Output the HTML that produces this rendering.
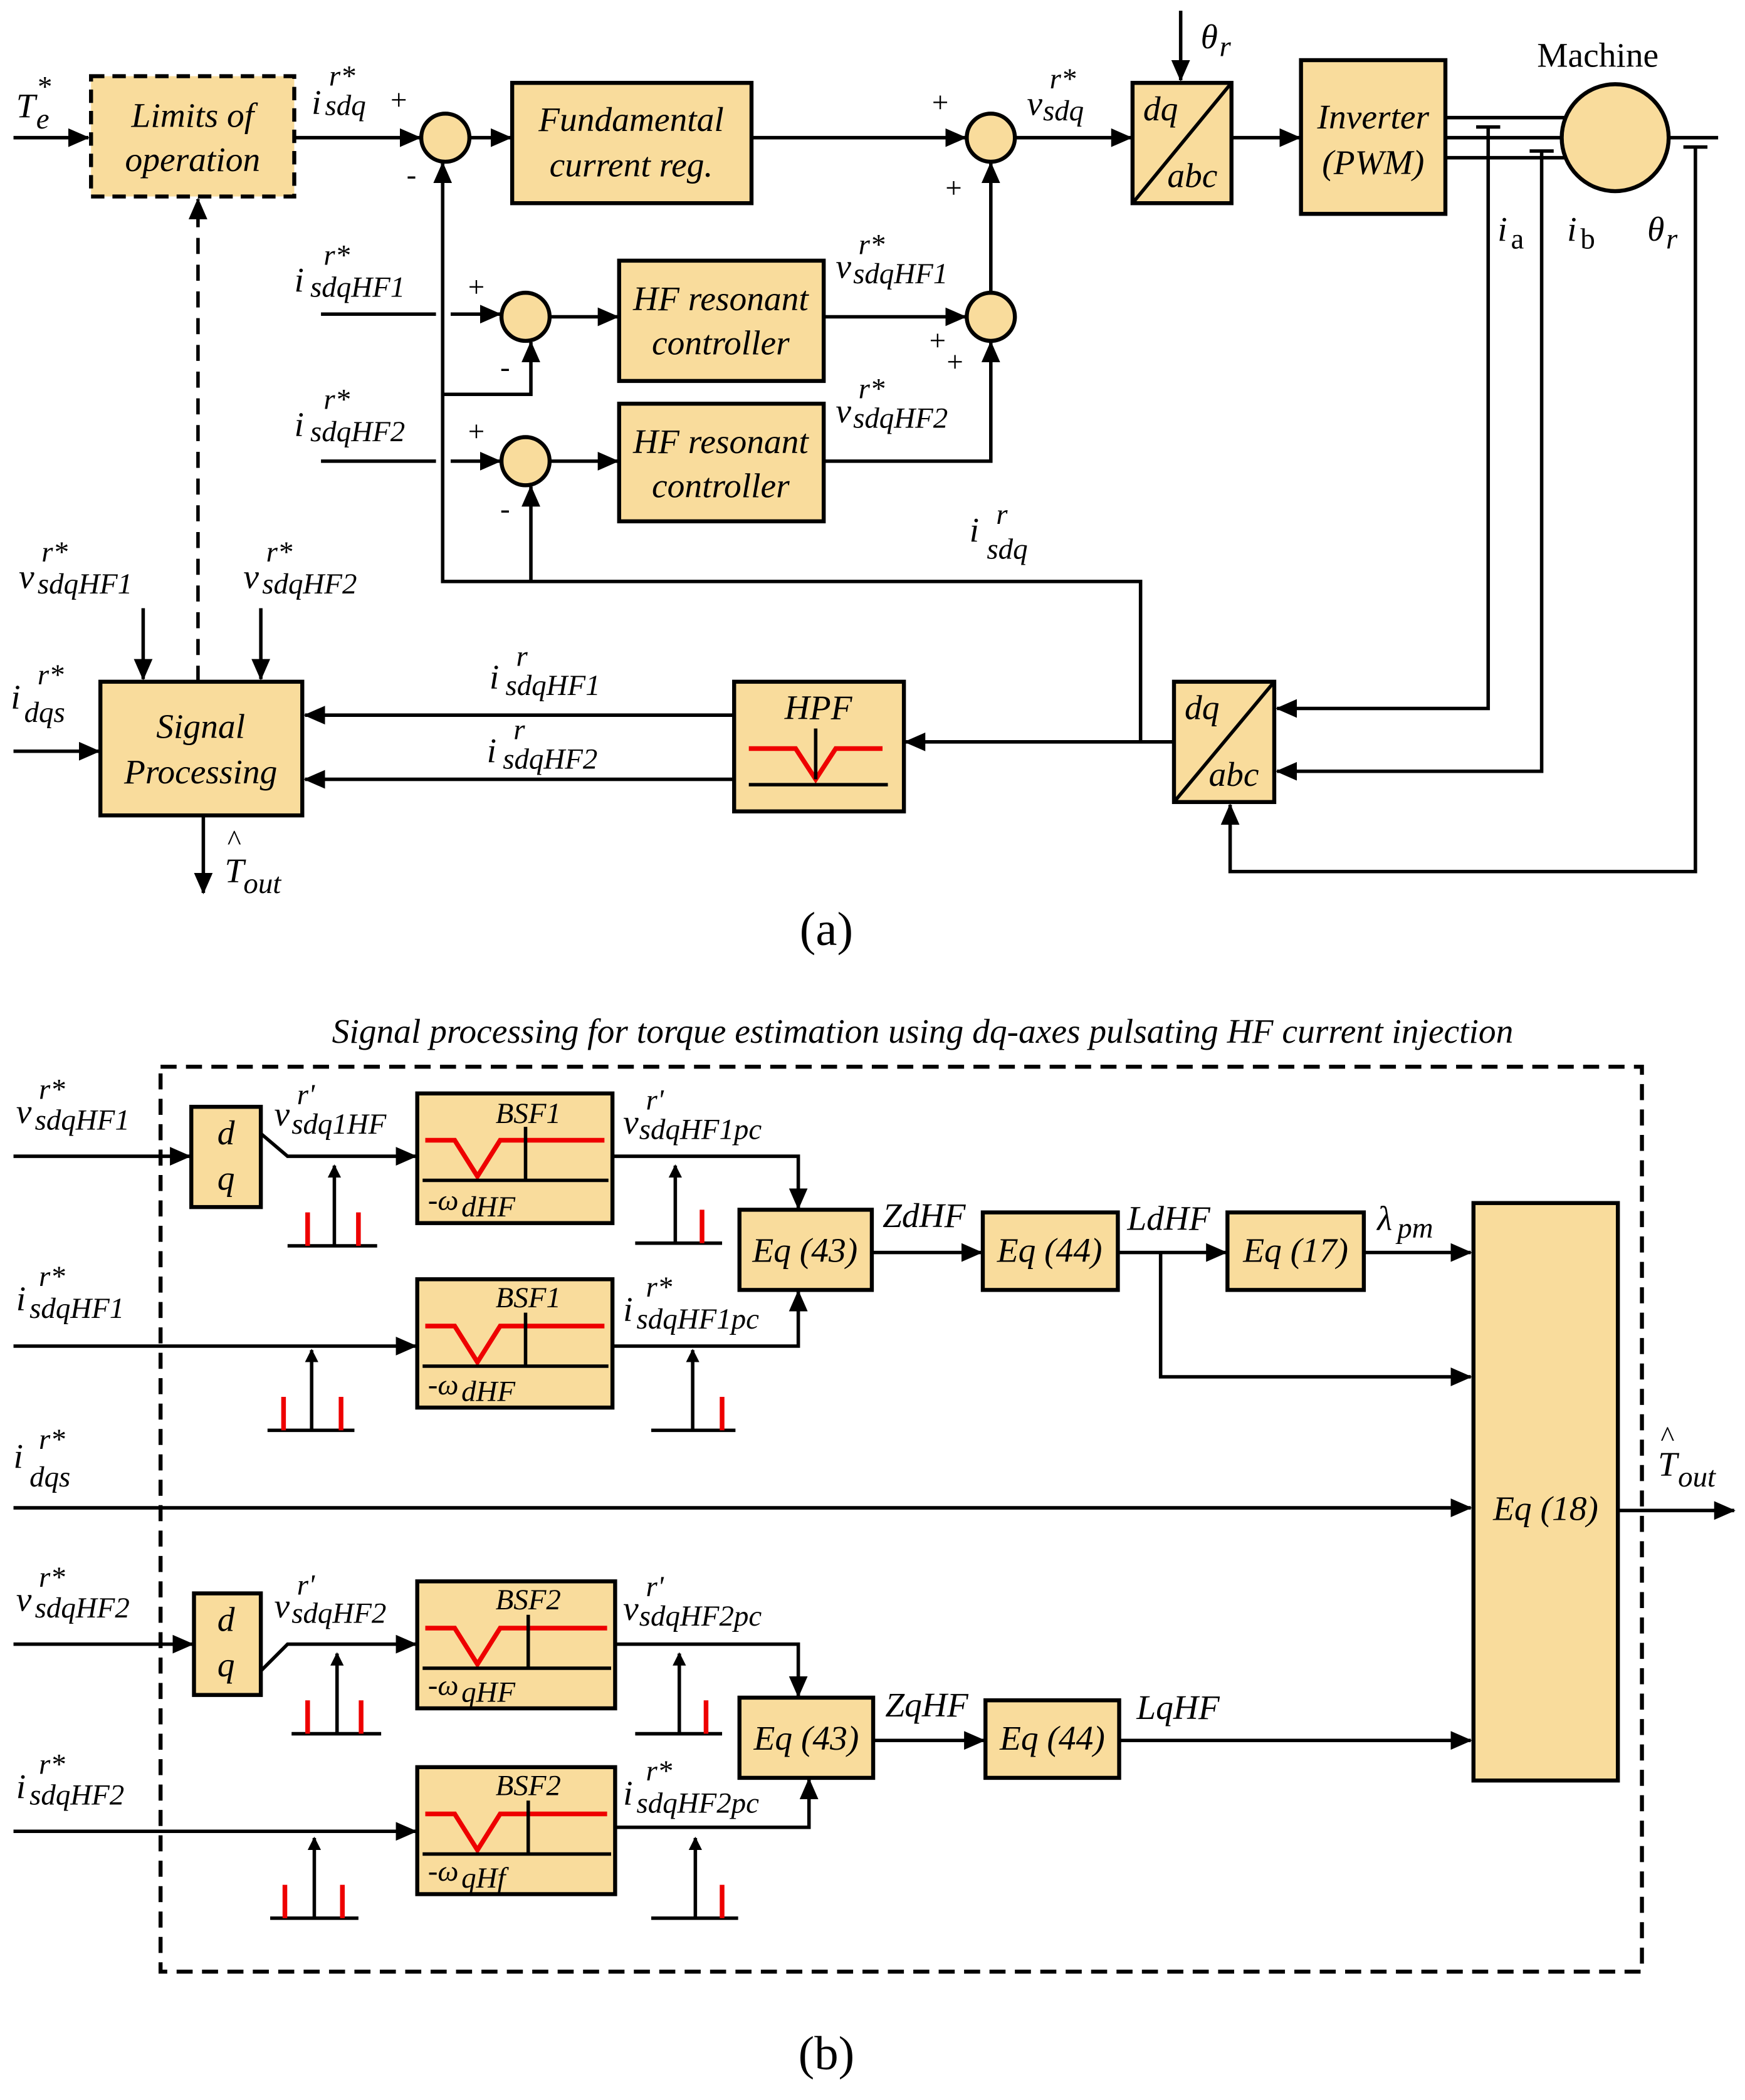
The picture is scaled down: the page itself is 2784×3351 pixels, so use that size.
<!DOCTYPE html>
<html><head><meta charset="utf-8"><style>
html,body{margin:0;padding:0;background:#fff}
svg{display:block}
text{font-family:"Liberation Serif","DejaVu Serif",serif;font-style:italic;fill:#000}
.b{fill:#F9DC9C;stroke:#000;stroke-width:3}
.l{fill:none;stroke:#000;stroke-width:2.6}
.r{fill:none;stroke:#e00;stroke-width:3.5}
.t{font-size:26px}
.s{font-size:22px}
.n{font-style:normal}
</style></head><body>
<svg width="2784" height="3351" viewBox="0 0 1305 1571" xmlns="http://www.w3.org/2000/svg">
<defs><marker id="a" markerWidth="10" markerHeight="10" refX="9" refY="5" orient="auto" markerUnits="userSpaceOnUse"><path d="M0,0 L10,5 L0,10 z" fill="#000"/></marker>
<marker id="A" markerWidth="16" markerHeight="14" refX="15" refY="7" orient="auto" markerUnits="userSpaceOnUse"><path d="M0,0 L16,7 L0,14 z" fill="#000"/></marker></defs>

<!-- ===== (a) ===== -->
<text x="12" y="88" class="t">T</text><text x="27" y="96" class="s">e</text><text x="27" y="72" class="s">*</text>
<path class="l" d="M10,103 H66" marker-end="url(#A)"/>
<rect x="68" y="57" width="152" height="90" fill="#F9DC9C" stroke="#000" stroke-width="3" stroke-dasharray="10,6"/>
<text x="144" y="95" class="t" text-anchor="middle">Limits of</text><text x="144" y="128" class="t" text-anchor="middle">operation</text>
<path class="l" d="M220,103 H314" marker-end="url(#A)"/>
<text x="233" y="85" class="t">i</text><text x="246" y="64" class="s">r*</text><text x="243" y="86" class="s">sdq</text>
<text x="292" y="82" class="s n">+</text><text x="304" y="138" class="s n">-</text>
<circle cx="333" cy="103" r="18" class="b"/>
<path class="l" d="M351,103 H382" marker-end="url(#A)"/>
<rect x="383" y="62" width="179" height="90" class="b"/>
<text x="472" y="98" class="t" text-anchor="middle">Fundamental</text><text x="472" y="132" class="t" text-anchor="middle">current reg.</text>
<path class="l" d="M562,103 H722" marker-end="url(#A)"/>
<text x="697" y="84" class="s n">+</text><text x="707" y="148" class="s n">+</text>
<circle cx="741" cy="103" r="18" class="b"/>
<path class="l" d="M759,103 H846" marker-end="url(#A)"/>
<text x="768" y="86" class="t">v</text><text x="785" y="66" class="s">r*</text><text x="780" y="90" class="s">sdq</text>
<rect x="847" y="62" width="74" height="90" class="b"/><path class="l" d="M847,152 L921,62"/>
<text x="855" y="90" class="t">dq</text><text x="873" y="140" class="t">abc</text>
<path class="l" d="M883,8 V60" marker-end="url(#A)"/><text x="898" y="36" class="t">θ</text><text x="912" y="42" class="s">r</text>
<path class="l" d="M921,103 H972" marker-end="url(#A)"/>
<rect x="973" y="45" width="108" height="115" class="b"/>
<text x="1027" y="96" class="t" text-anchor="middle">Inverter</text><text x="1027" y="130" class="t" text-anchor="middle">(PWM)</text>
<path class="l" d="M1081,88 H1175 M1081,103 H1168 M1081,118 H1175 M1248,103 H1285"/>
<circle cx="1208" cy="103" r="40" class="b"/>
<text x="1195" y="50" class="t n" text-anchor="middle">Machine</text>
<path class="l" d="M1104,95 H1122 M1144,113 H1162 M1259,110 H1277"/>
<path class="l" d="M1113,95 V530 H955" marker-end="url(#A)"/>
<path class="l" d="M1153,113 V577 H955" marker-end="url(#A)"/>
<path class="l" d="M1268,110 V652 H920 V602" marker-end="url(#A)"/>
<text x="1120" y="180" class="t">i</text><text x="1130" y="186" class="s n">a</text>
<text x="1172" y="180" class="t">i</text><text x="1182" y="186" class="s n">b</text>
<text x="1232" y="180" class="t">θ</text><text x="1246" y="186" class="s">r</text>

<!-- HF loops -->
<text x="220" y="218" class="t">i</text><text x="242" y="198" class="s">r*</text><text x="232" y="222" class="s">sdqHF1</text>
<path class="l" d="M240,235 H326 M337,235 H374" marker-end="url(#A)"/>
<text x="350" y="222" class="s n">+</text><text x="374" y="282" class="s n">-</text>
<circle cx="393" cy="237" r="18" class="b"/>
<path class="l" d="M411,237 H462" marker-end="url(#A)"/>
<rect x="463" y="195" width="153" height="90" class="b"/>
<text x="539" y="232" class="t" text-anchor="middle">HF resonant</text><text x="539" y="265" class="t" text-anchor="middle">controller</text>
<path class="l" d="M616,237 H722" marker-end="url(#A)"/>
<text x="625" y="208" class="t">v</text><text x="642" y="190" class="s">r*</text><text x="638" y="212" class="s">sdqHF1</text>
<text x="695" y="262" class="s n">+</text><text x="708" y="278" class="s n">+</text>
<circle cx="741" cy="237" r="18" class="b"/>
<path class="l" d="M741,219 V122" marker-end="url(#A)"/>

<text x="220" y="326" class="t">i</text><text x="242" y="306" class="s">r*</text><text x="232" y="330" class="s">sdqHF2</text>
<path class="l" d="M240,345 H326 M337,345 H374" marker-end="url(#A)"/>
<text x="350" y="330" class="s n">+</text><text x="374" y="388" class="s n">-</text>
<circle cx="393" cy="345" r="18" class="b"/>
<path class="l" d="M411,345 H462" marker-end="url(#A)"/>
<rect x="463" y="302" width="153" height="88" class="b"/>
<text x="539" y="339" class="t" text-anchor="middle">HF resonant</text><text x="539" y="372" class="t" text-anchor="middle">controller</text>
<path class="l" d="M616,345 H741 V256" marker-end="url(#A)"/>
<text x="625" y="316" class="t">v</text><text x="642" y="298" class="s">r*</text><text x="638" y="320" class="s">sdqHF2</text>

<!-- feedback -->
<path class="l" d="M853,555 V435 H331 V122" marker-end="url(#A)"/>
<path class="l" d="M397,435 V364" marker-end="url(#A)"/>
<path class="l" d="M331,295 H397 V256" marker-end="url(#A)"/>
<text x="725" y="405" class="t">i</text><text x="745" y="392" class="s">r</text><text x="738" y="418" class="s">sdq</text>

<!-- dq/abc 2 -->
<rect x="878" y="510" width="75" height="90" class="b"/><path class="l" d="M878,600 L953,510"/>
<text x="886" y="538" class="t">dq</text><text x="904" y="588" class="t">abc</text>
<path class="l" d="M878,555 H677" marker-end="url(#A)"/>
<rect x="549" y="510" width="127" height="97" class="b"/>
<text x="612" y="538" class="t" text-anchor="middle">HPF</text>
<path class="r" d="M560,560 H595 L610,583 L625,560 H660"/>
<path class="l" d="M560,587 H664"/><path class="l" d="M610,545 V583"/>
<path class="l" d="M549,535 H228" marker-end="url(#A)"/>
<path class="l" d="M549,583 H228" marker-end="url(#A)"/>
<text x="366" y="515" class="t">i</text><text x="386" y="498" class="s">r</text><text x="378" y="520" class="s">sdqHF1</text>
<text x="364" y="570" class="t">i</text><text x="384" y="553" class="s">r</text><text x="376" y="575" class="s">sdqHF2</text>

<!-- signal processing -->
<text x="14" y="440" class="t">v</text><text x="31" y="420" class="s">r*</text><text x="28" y="444" class="s">sdqHF1</text>
<text x="182" y="440" class="t">v</text><text x="199" y="420" class="s">r*</text><text x="196" y="444" class="s">sdqHF2</text>
<path class="l" d="M107,455 V508" marker-end="url(#A)"/>
<path class="l" d="M195,455 V508" marker-end="url(#A)"/>
<path class="l" d="M148,510 V149" stroke-dasharray="12,8" marker-end="url(#A)"/>
<text x="8" y="530" class="t">i</text><text x="28" y="512" class="s">r*</text><text x="18" y="540" class="s">dqs</text>
<path class="l" d="M10,562 H74" marker-end="url(#A)"/>
<rect x="75" y="510" width="151" height="100" class="b"/>
<text x="150" y="552" class="t" text-anchor="middle">Signal</text><text x="150" y="586" class="t" text-anchor="middle">Processing</text>
<path class="l" d="M152,610 V668" marker-end="url(#A)"/>
<text x="168" y="660" class="t">T</text><text x="170" y="636" class="s n">^</text><text x="182" y="668" class="s">out</text>
<text x="618" y="707" font-size="36" class="n" text-anchor="middle">(a)</text>

<!-- ===== (b) ===== -->
<text x="690" y="780" class="t" text-anchor="middle">Signal processing for torque estimation using dq-axes pulsating HF current injection</text>
<rect x="120" y="798" width="1108" height="677" fill="none" stroke="#000" stroke-width="3" stroke-dasharray="12,7"/>

<!-- row1 -->
<text x="12" y="840" class="t">v</text><text x="29" y="822" class="s">r*</text><text x="26" y="845" class="s">sdqHF1</text>
<path class="l" d="M10,865 H142" marker-end="url(#A)"/>
<rect x="143" y="828" width="52" height="75" class="b"/><text x="169" y="856" class="t" text-anchor="middle">d</text><text x="169" y="890" class="t" text-anchor="middle">q</text>
<path class="l" d="M195,848 L215,865 H311" marker-end="url(#A)"/>
<text x="205" y="842" class="t">v</text><text x="222" y="826" class="s">r'</text><text x="218" y="848" class="s">sdq1HF</text>
<path class="l" d="M215,932 H282 M250,932 V872" marker-end="url(#a)"/><path class="r" d="M230,932 V907 M268,932 V907"/>
<rect x="312" y="818" width="146" height="97" class="b"/>
<text x="395" y="840" class="s" text-anchor="middle">BSF1</text>
<path class="r" d="M318,853 H340 L357,880 L374,853 H452"/><path class="l" d="M393,843 V883 M316,883 H455"/>
<text x="320" y="905" class="s">-ω</text><text x="345" y="910" class="s">dHF</text>
<path class="l" d="M458,865 H597 V904" marker-end="url(#A)"/>
<text x="466" y="848" class="t">v</text><text x="483" y="830" class="s">r'</text><text x="478" y="852" class="s">sdqHF1pc</text>
<path class="l" d="M475,930 H540 M505,930 V872" marker-end="url(#a)"/><path class="r" d="M525,930 V905"/>
<rect x="553" y="905" width="99" height="60" class="b"/><text x="602" y="944" class="t" text-anchor="middle">Eq (43)</text>
<path class="l" d="M652,937 H734" marker-end="url(#A)"/><text x="660" y="918" class="t">ZdHF</text>
<rect x="735" y="907" width="101" height="58" class="b"/><text x="785" y="944" class="t" text-anchor="middle">Eq (44)</text>
<path class="l" d="M836,937 H917" marker-end="url(#A)"/><text x="843" y="920" class="t">LdHF</text>
<path class="l" d="M868,937 V1030 H1100" marker-end="url(#A)"/>
<rect x="918" y="907" width="102" height="58" class="b"/><text x="969" y="944" class="t" text-anchor="middle">Eq (17)</text>
<path class="l" d="M1020,937 H1100" marker-end="url(#A)"/><text x="1030" y="920" class="t">λ</text><text x="1045" y="926" class="s">pm</text>

<!-- row2 -->
<text x="12" y="980" class="t">i</text><text x="29" y="962" class="s">r*</text><text x="22" y="986" class="s">sdqHF1</text>
<path class="l" d="M10,1007 H311" marker-end="url(#A)"/>
<path class="l" d="M200,1070 H265 M233,1070 V1010" marker-end="url(#a)"/><path class="r" d="M212,1070 V1045 M255,1070 V1045"/>
<rect x="312" y="957" width="146" height="96" class="b"/>
<text x="395" y="978" class="s" text-anchor="middle">BSF1</text>
<path class="r" d="M318,992 H340 L357,1019 L374,992 H452"/><path class="l" d="M393,982 V1022 M316,1022 H455"/>
<text x="320" y="1043" class="s">-ω</text><text x="345" y="1048" class="s">dHF</text>
<path class="l" d="M458,1007 H597 V966" marker-end="url(#A)"/>
<text x="466" y="988" class="t">i</text><text x="483" y="970" class="s">r*</text><text x="476" y="994" class="s">sdqHF1pc</text>
<path class="l" d="M487,1070 H550 M518,1070 V1010" marker-end="url(#a)"/><path class="r" d="M540,1070 V1045"/>

<!-- idqs -->
<text x="10" y="1098" class="t">i</text><text x="29" y="1084" class="s">r*</text><text x="22" y="1112" class="s">dqs</text>
<path class="l" d="M10,1128 H1100" marker-end="url(#A)"/>
<rect x="1102" y="900" width="108" height="432" class="b"/><text x="1156" y="1137" class="t" text-anchor="middle">Eq (18)</text>
<path class="l" d="M1210,1130 H1297" marker-end="url(#A)"/>
<text x="1240" y="1104" class="t">T</text><text x="1242" y="1082" class="s n">^</text><text x="1255" y="1112" class="s">out</text>

<!-- row3 -->
<text x="12" y="1205" class="t">v</text><text x="29" y="1187" class="s">r*</text><text x="26" y="1210" class="s">sdqHF2</text>
<path class="l" d="M10,1230 H144" marker-end="url(#A)"/>
<rect x="145" y="1192" width="50" height="76" class="b"/><text x="169" y="1220" class="t" text-anchor="middle">d</text><text x="169" y="1254" class="t" text-anchor="middle">q</text>
<path class="l" d="M195,1250 L215,1230 H311" marker-end="url(#A)"/>
<text x="205" y="1210" class="t">v</text><text x="222" y="1193" class="s">r'</text><text x="218" y="1214" class="s">sdqHF2</text>
<path class="l" d="M218,1297 H285 M252,1297 V1237" marker-end="url(#a)"/><path class="r" d="M230,1297 V1272 M270,1297 V1272"/>
<rect x="312" y="1183" width="148" height="95" class="b"/>
<text x="395" y="1204" class="s" text-anchor="middle">BSF2</text>
<path class="r" d="M318,1218 H340 L357,1245 L374,1218 H454"/><path class="l" d="M395,1208 V1248 M316,1248 H457"/>
<text x="320" y="1268" class="s">-ω</text><text x="345" y="1273" class="s">qHF</text>
<path class="l" d="M460,1230 H597 V1269" marker-end="url(#A)"/>
<text x="466" y="1212" class="t">v</text><text x="483" y="1194" class="s">r'</text><text x="478" y="1216" class="s">sdqHF2pc</text>
<path class="l" d="M475,1297 H540 M508,1297 V1237" marker-end="url(#a)"/><path class="r" d="M528,1297 V1272"/>
<rect x="553" y="1270" width="100" height="60" class="b"/><text x="603" y="1309" class="t" text-anchor="middle">Eq (43)</text>
<path class="l" d="M653,1302 H736" marker-end="url(#A)"/><text x="662" y="1284" class="t">ZqHF</text>
<rect x="737" y="1272" width="100" height="58" class="b"/><text x="787" y="1309" class="t" text-anchor="middle">Eq (44)</text>
<path class="l" d="M837,1302 H1100" marker-end="url(#A)"/><text x="850" y="1286" class="t">LqHF</text>

<!-- row4 -->
<text x="12" y="1345" class="t">i</text><text x="29" y="1327" class="s">r*</text><text x="22" y="1350" class="s">sdqHF2</text>
<path class="l" d="M10,1370 H311" marker-end="url(#A)"/>
<path class="l" d="M202,1435 H268 M235,1435 V1375" marker-end="url(#a)"/><path class="r" d="M213,1435 V1410 M256,1435 V1410"/>
<rect x="312" y="1322" width="148" height="95" class="b"/>
<text x="395" y="1343" class="s" text-anchor="middle">BSF2</text>
<path class="r" d="M318,1357 H340 L357,1384 L374,1357 H454"/><path class="l" d="M395,1347 V1387 M316,1387 H457"/>
<text x="320" y="1407" class="s">-ω</text><text x="345" y="1412" class="s">qHf</text>
<path class="l" d="M460,1367 H605 V1331" marker-end="url(#A)"/>
<text x="466" y="1350" class="t">i</text><text x="483" y="1332" class="s">r*</text><text x="476" y="1356" class="s">sdqHF2pc</text>
<path class="l" d="M487,1435 H552 M520,1435 V1375" marker-end="url(#a)"/><path class="r" d="M540,1435 V1410"/>

<text x="618" y="1548" font-size="36" class="n" text-anchor="middle">(b)</text>
</svg>
</body></html>
